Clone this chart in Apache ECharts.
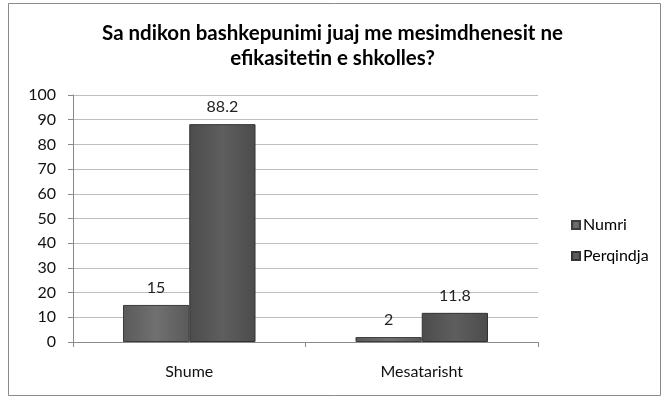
<!DOCTYPE html>
<html><head><meta charset="utf-8">
<script src="https://cdn.jsdelivr.net/npm/echarts@6/dist/echarts.min.js"></script>
<style>html,body{margin:0;padding:0;background:#fff}#c{width:665px;height:400px}</style>
</head><body><div id="c"></div>
<script>
const categories = ['Shume', 'Mesatarisht'];
const numri = [15, 2];
const perqindja = [88.2, 11.8];
const seriesNames = ['Numri', 'Perqindja'];
const titleText = 'Sa ndikon bashkepunimi juaj me mesimdhenesit ne\nefikasitetin e shkolles?';

function grad(top, mid, bot) {
  return new echarts.graphic.LinearGradient(0, 0, 1, 0, [
    {offset: 0, color: top}, {offset: 0.5, color: mid}, {offset: 1, color: bot}
  ]);
}
const FONT = 'Lato, "Open Sans", sans-serif';
const chart = echarts.init(document.getElementById('c'));
chart.setOption({
  animation: false,
  backgroundColor: '#fff',
  graphic: [{
    type: 'rect', shape: {x: 8.5, y: 3.5, width: 652, height: 392},
    style: {fill: 'none', stroke: '#8a8a8a', lineWidth: 1}, silent: true
  }],
  title: {
    text: titleText, left: 'center', top: 16,
    textStyle: {fontFamily: FONT, fontSize: 20.5, fontWeight: 'bold', color: '#000', lineHeight: 25}
  },
  legend: {
    orient: 'vertical', left: 566, top: 212, itemWidth: 8, itemHeight: 8, itemGap: 15,
    icon: 'rect',
    textStyle: {fontFamily: FONT, fontSize: 16, color: '#000', padding: [0, 0, 0, -2]},
    data: seriesNames
  },
  grid: {left: 73, right: 127, top: 95, bottom: 58},
  xAxis: {
    type: 'category', data: categories,
    axisLine: {lineStyle: {color: '#8a8a8a'}},
    axisTick: {show: true, length: 5, lineStyle: {color: '#8a8a8a'}},
    axisLabel: {fontFamily: FONT, fontSize: 16, color: '#111', margin: 22}
  },
  yAxis: {
    type: 'value', min: 0, max: 100, interval: 10,
    axisLine: {show: true, lineStyle: {color: '#8a8a8a'}},
    axisTick: {show: true, length: 5, lineStyle: {color: '#8a8a8a'}},
    axisLabel: {fontFamily: FONT, fontSize: 16, color: '#111', margin: 17},
    splitLine: {lineStyle: {color: '#bdbdbd'}}
  },
  series: [
    {
      name: seriesNames[0], type: 'bar', data: numri, barGap: '0%', barCategoryGap: '43%',
      itemStyle: {color: grad('#5a5a5a', '#707070', '#5a5a5a'), borderColor: '#3c3c3c', borderWidth: 1},
      label: {show: true, position: 'top', distance: 9, fontFamily: FONT, fontSize: 16, color: '#222'}
    },
    {
      name: seriesNames[1], type: 'bar', data: perqindja,
      itemStyle: {color: grad('#4c4c4c', '#5e5e5e', '#4c4c4c'), borderColor: '#333', borderWidth: 1},
      label: {show: true, position: 'top', distance: 9, fontFamily: FONT, fontSize: 16, color: '#222'}
    }
  ]
});
</script></body></html>
